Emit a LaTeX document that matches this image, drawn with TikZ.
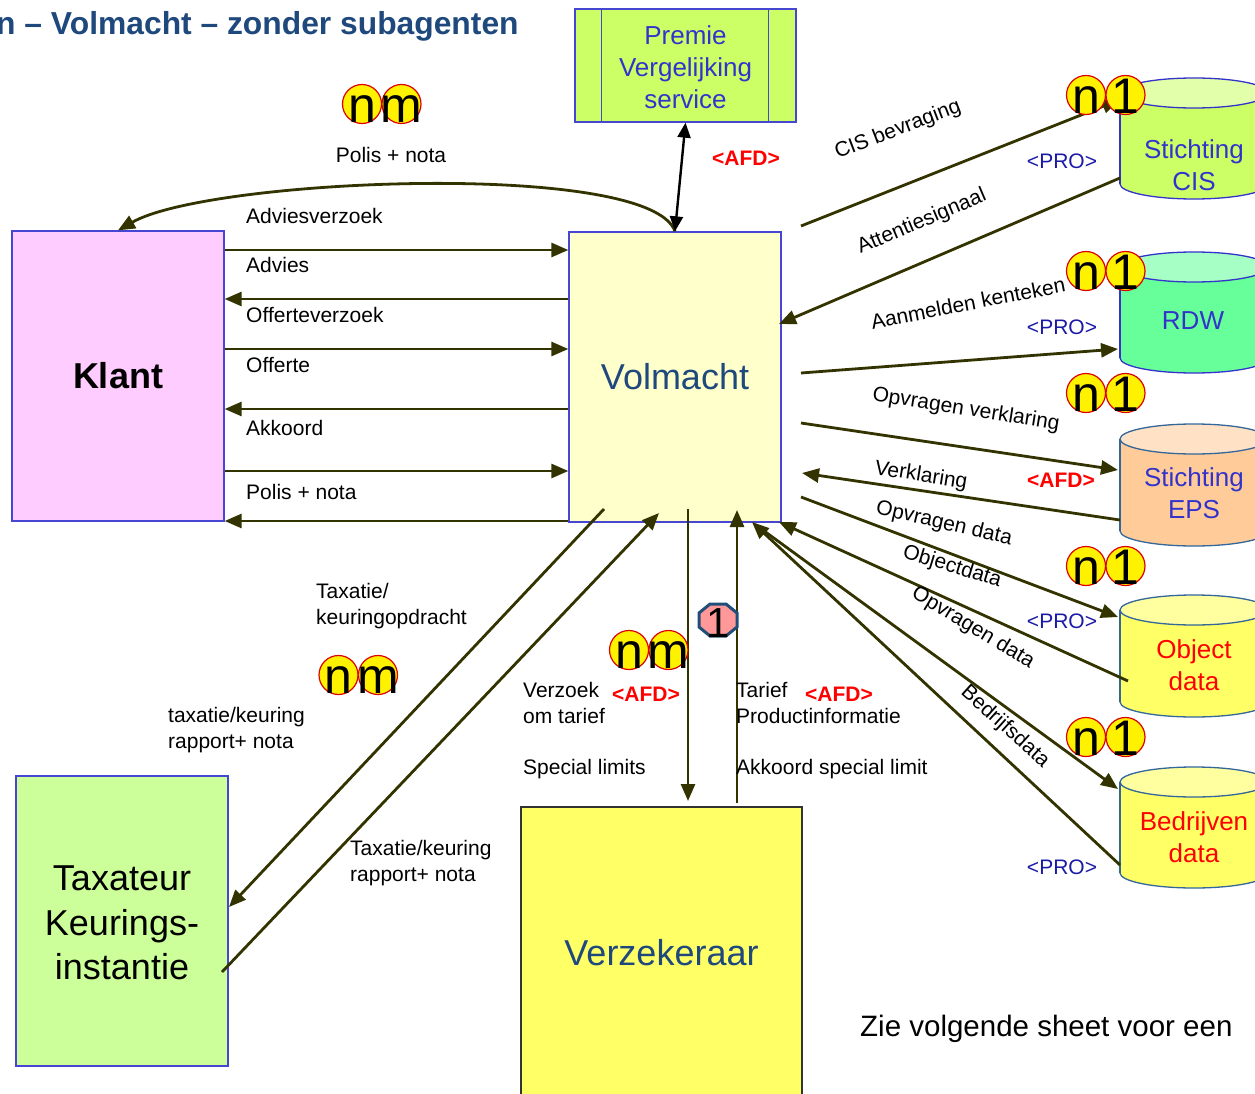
\documentclass[tikz,border=0pt]{standalone}
\usepackage{fontspec}
\setmainfont{Liberation Sans}
\usetikzlibrary{arrows.meta,calc}

\definecolor{flow}{RGB}{51,51,0}
\definecolor{frame}{RGB}{70,70,210}
\definecolor{navy}{RGB}{31,73,125}
\definecolor{pinkfill}{RGB}{255,204,255}
\definecolor{creamfill}{RGB}{255,255,204}
\definecolor{limefill}{RGB}{204,255,102}
\definecolor{limetop}{RGB}{226,255,170}
\definecolor{palegreen}{RGB}{204,255,153}
\definecolor{lemon}{RGB}{255,255,102}
\definecolor{lemontop}{RGB}{255,255,160}
\definecolor{mint}{RGB}{102,255,153}
\definecolor{minttop}{RGB}{166,255,196}
\definecolor{peach}{RGB}{255,204,153}
\definecolor{peachtop}{RGB}{255,226,198}
\definecolor{steel}{RGB}{51,102,153}
\definecolor{labelblue}{RGB}{51,51,204}
\definecolor{problue}{RGB}{26,26,166}
\definecolor{badgeedge}{RGB}{220,0,0}
\definecolor{salmon}{RGB}{255,153,153}
\definecolor{octedge}{RGB}{31,78,121}

\newcommand\lblsize{\fontsize{21}{26.5}\selectfont}

% database cylinder: centre x, top y, bottom y, body fill, top fill, edge
\newcommand\dbcyl[6]{%
  \path[fill=#4,draw=#6,line width=1.3pt] (#1,#3) ellipse [x radius=74,y radius=15];
  \fill[#4] (#1-74,#2) rectangle (#1+74,#3);
  \draw[#6,line width=1.3pt] (#1-74,#2) -- (#1-74,#3) (#1+74,#2) -- (#1+74,#3);
  \path[fill=#5,draw=#6,line width=1.3pt] (#1,#2) ellipse [x radius=74,y radius=15];
}

% pair of yellow cardinality discs: name, x, y, left letter, right letter
\newcommand\badgepair[5]{%
  \node[badge] (#1a) at (#2,#3) {};
  \node[badgetxt] (#1at) at ($(#1a.center)+(0,18.5)$) {#4};
  \node[badge] (#1b) at ($(#1a.center)+(39.5,0)$) {};
  \node[badgetxt] (#1bt) at ($(#1b.center)+(0,18.5)$) {#5};
}

\begin{document}
\begin{tikzpicture}[x=1pt,y=-1pt,
  arr/.style={draw=flow,line width=2.8pt,-{Triangle[length=17pt,width=14pt]}},
  box/.style={draw=frame,line width=1.3pt,inner sep=0pt,minimum width=212pt,minimum height=290pt,align=center},
  lbl/.style={inner sep=0pt,anchor=base west,align=left,font=\lblsize},
  tag/.style={inner sep=0pt,font=\lblsize},
  afd/.style={inner sep=0pt,text=red,font=\bfseries\lblsize},
  pro/.style={inner sep=0pt,text=problue,font=\lblsize},
  badge/.style={circle,draw=badgeedge,fill=yellow,line width=1.2pt,minimum size=39pt,inner sep=0pt},
  badgetxt/.style={inner sep=0pt,anchor=base,font=\fontsize{50}{50}\selectfont},
  cyltxt/.style={inner sep=0pt,align=center,font=\fontsize{26}{32}\selectfont}
]
\useasboundingbox (0,0) rectangle (1255,1094);
\begin{scope}
\clip (0,0) rectangle (1255,1094);

% heading
\node[anchor=base west,inner sep=0pt,text=navy,font=\bfseries\fontsize{31.8}{36}\selectfont] (title) at (-4,35) {n – Volmacht – zonder subagenten};

% parties
\node[box,fill=pinkfill,font=\bfseries\fontsize{36}{40}\selectfont] (klant) at (118,376) {Klant};
\node[box,fill=creamfill,text=navy,font=\fontsize{36}{40}\selectfont] (volm) at (675,377) {Volmacht};
\node[box,fill=palegreen] (tax) at (122,921) {};
\node[inner sep=0pt,align=center,font=\fontsize{36}{44.5}\selectfont] (taxtxt) at (122,923) {Taxateur\\Keurings-\\instantie};
\node[box,draw=black!80,fill=lemon,text=navy,minimum width=281pt,minimum height=292pt,font=\fontsize{36}{40}\selectfont] (verz) at (661.5,953) {Verzekeraar};
\node[box,fill=limefill,minimum width=221pt,minimum height=113pt] (premie) at (685.5,65.5) {};
\node[inner sep=0pt,align=center,text=labelblue,font=\fontsize{26}{32}\selectfont] (premietxt) at (685.5,67.5) {Premie\\Vergelijking\\service};
\draw[frame,line width=1.3pt] ([xshift=27pt]premie.north west) -- ([xshift=27pt]premie.south west)
  ([xshift=-28pt]premie.north east) -- ([xshift=-28pt]premie.south east);

% registers
\dbcyl{1194}{93}{184}{limefill}{limetop}{labelblue}
\dbcyl{1194}{267}{358}{mint}{minttop}{labelblue}
\dbcyl{1194}{439}{531}{peach}{peachtop}{steel}
\dbcyl{1194}{610}{702}{lemon}{lemontop}{steel}
\dbcyl{1194}{782}{873}{lemon}{lemontop}{steel}
\node[cyltxt,text=labelblue] (cis) at (1194,165) {Stichting\\CIS};
\node[cyltxt,text=labelblue] (rdw) at (1193,321) {RDW};
\node[cyltxt,text=labelblue] (eps) at (1194,493) {Stichting\\EPS};
\node[cyltxt,text=red] (obj) at (1194,665) {Object\\data};
\node[cyltxt,text=red] (bedr) at (1194,837) {Bedrijven\\data};

% connector end points
\coordinate (cisOut) at (801,226);   \coordinate (cisIn) at (1119,100);
\coordinate (cisSig) at (1120,178);  \coordinate (volSig) at (779,324);
\coordinate (rdwOut) at (801,373);   \coordinate (rdwIn) at (1118,349);
\coordinate (epsOut) at (801,423);   \coordinate (epsIn) at (1118,470);
\coordinate (epsBack) at (1120,520); \coordinate (volEps) at (802,473);
\coordinate (objOut) at (801,497);   \coordinate (objIn) at (1118,617);
\coordinate (objBack) at (1128,681); \coordinate (volObj) at (779,522);
\coordinate (bedOut) at (760,528);   \coordinate (bedIn) at (1118,789);
\coordinate (bedBack) at (1120,865); \coordinate (volBed) at (752,522);
\coordinate (taxOut) at (604,509);   \coordinate (taxIn) at (229,907);
\coordinate (taxBack) at (222,972);  \coordinate (volTax) at (659,513);
\coordinate (verzOut) at (688,509);  \coordinate (verzIn) at (688,801);
\coordinate (verzBack) at (737,803); \coordinate (volVerz) at (737,510);

% Klant <-> Volmacht
\draw[arr] (klant.east |- 0,250) -- (volm.west |- 0,250);
\draw[arr] (volm.west |- 0,299) -- (klant.east |- 0,299);
\draw[arr] (klant.east |- 0,349) -- (volm.west |- 0,349);
\draw[arr] (volm.west |- 0,409) -- (klant.east |- 0,409);
\draw[arr] (klant.east |- 0,471) -- (volm.west |- 0,471);
\draw[arr] (volm.west |- 0,521) -- (klant.east |- 0,521);
\draw[arr] (volm.north) .. controls (650,160) and (210,178) .. (klant.north);

\node[lbl] (l1) at (246,223) {Adviesverzoek};
\node[lbl] (l2) at (246,272) {Advies};
\node[lbl] (l3) at (246,322) {Offerteverzoek};
\node[lbl] (l4) at (246,372) {Offerte};
\node[lbl] (l5) at (246,435) {Akkoord};
\node[lbl] (l6) at (246,499) {Polis + nota};
\node[tag,anchor=base] (l7) at (391,163) {Polis + nota};

% Premie vergelijking
\draw[line width=2.4pt,{Triangle[length=15pt,width=13pt]}-{Triangle[length=15pt,width=13pt]}] (premie.south) -- (volm.north);
\node[afd] (a1) at (746,158) {<AFD>};

% registers <-> Volmacht
\draw[arr] (cisOut) -- (cisIn);
\draw[arr] (cisSig) -- (volSig);
\draw[arr] (rdwOut) -- (rdwIn);
\draw[arr] (epsOut) -- (epsIn);
\draw[arr] (epsBack) -- (volEps);
\draw[arr] (objOut) -- (objIn);
\draw[arr] (objBack) -- (volObj);
\draw[arr] (bedOut) -- (bedIn);
\draw[arr] (bedBack) -- (volBed);

\node[tag,rotate=21] (r1) at (898,130) {CIS bevraging};
\node[tag,rotate=23] (r2) at (922,222) {Attentiesignaal};
\node[tag,rotate=11] (r3) at (968,303) {Aanmelden kenteken};
\node[tag,rotate=-9] (r4) at (966,410) {Opvragen verklaring};
\node[tag,rotate=-9] (r5) at (921,476) {Verklaring};
\node[tag,rotate=-13] (r6) at (944,524) {Opvragen data};
\node[tag,rotate=-17] (r7) at (952,567) {Objectdata};
\node[tag,rotate=-31] (r8) at (973,628) {Opvragen data};
\node[tag,rotate=-42] (r9) at (1005,727) {Bedrijfsdata};

\node[pro] (p1) at (1062,161) {<PRO>};
\node[pro] (p2) at (1062,327) {<PRO>};
\node[pro] (p3) at (1062,621) {<PRO>};
\node[pro] (p4) at (1062,867) {<PRO>};
\node[afd] (a2) at (1061,480) {<AFD>};

% Taxateur
\draw[arr] (taxOut) -- (taxIn);
\draw[arr] (taxBack) -- (volTax);
\node[lbl] (t1) at (316,624.5) {Taxatie/\\keuringopdracht};
\node[lbl] (t2) at (168,748.5) {taxatie/keuring\\rapport+ nota};
\node[lbl] (t3) at (350,881.5) {Taxatie/keuring\\rapport+ nota};

% Verzekeraar
\draw[arr] (verzOut) -- (verzIn);
\draw[arr] (verzBack) -- (volVerz);
\node[lbl] (v1) at (523,723.5) {Verzoek\\om tarief};
\node[lbl] (v2) at (523,774) {Special limits};
\node[lbl] (v3) at (736,723.5) {Tarief\\Productinformatie};
\node[lbl] (v4) at (736,774) {Akkoord special limit};
\node[afd] (a3) at (646,694) {<AFD>};
\node[afd] (a4) at (839,694) {<AFD>};

% cardinalities
\badgepair{top}{362}{104}{n}{m}
\badgepair{taxc}{338.5}{675}{n}{m}
\badgepair{verzc}{629}{650}{n}{m}
\badgepair{cisc}{1086}{95}{n}{1}
\badgepair{rdwc}{1086}{271}{n}{1}
\badgepair{epsc}{1086}{393}{n}{1}
\badgepair{objc}{1086}{566}{n}{1}
\badgepair{bedc}{1086}{737}{n}{1}

\path[fill=salmon,draw=octedge,line width=3pt] (710,604) -- (726,604) -- (737,613) -- (737,627) -- (726,636) -- (710,636) -- (699,627) -- (699,613) -- cycle;
\node[inner sep=0pt,anchor=base,font=\fontsize{42}{42}\selectfont] (one) at (718,637) {1};

\node[anchor=base west,inner sep=0pt,font=\fontsize{29.5}{34}\selectfont] (note) at (860,1036) {Zie volgende sheet voor een};
\end{scope}
\end{tikzpicture}
\end{document}
